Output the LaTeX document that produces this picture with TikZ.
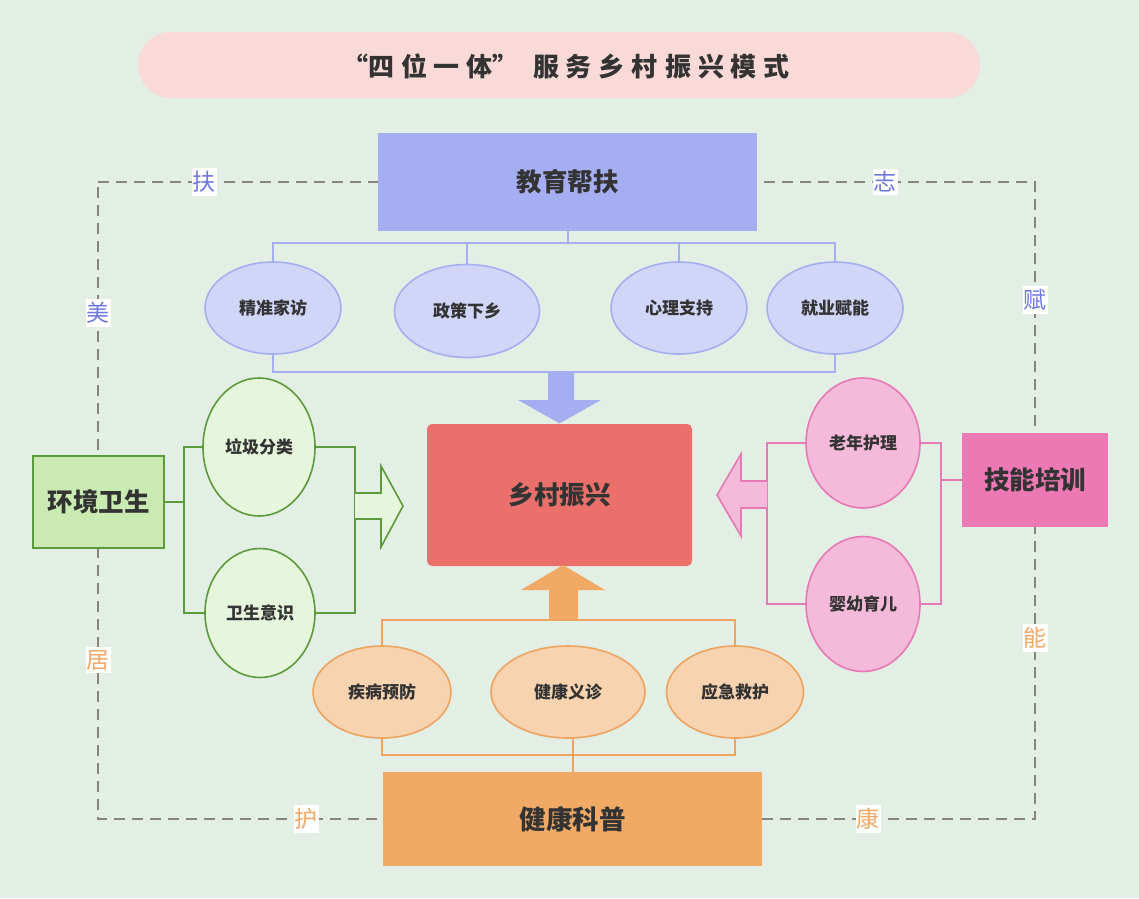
\documentclass[tikz,border=0pt]{standalone}
\usepackage{fontspec}
\setmainfont{Noto Sans CJK SC}
\usetikzlibrary{shapes.geometric}
\definecolor{bgc}{HTML}{E3EEE5}
\definecolor{titlef}{HTML}{F9DAD8}
\definecolor{txt}{HTML}{333333}
\definecolor{bluef}{HTML}{A6AEF2}
\definecolor{bluel}{HTML}{D1D5F8}
\definecolor{redf}{HTML}{EB706B}
\definecolor{greenb}{HTML}{C9EBB1}
\definecolor{greens}{HTML}{5C9A3C}
\definecolor{greenl}{HTML}{E6F6DD}
\definecolor{pinkb}{HTML}{EC78B4}
\definecolor{pinks}{HTML}{E57AB5}
\definecolor{pinkl}{HTML}{F5B9DA}
\definecolor{orangeb}{HTML}{F1AA65}
\definecolor{oranges}{HTML}{EEA45E}
\definecolor{orangel}{HTML}{F8D3B0}
\definecolor{frameg}{HTML}{8A847F}
\definecolor{labblue}{HTML}{6F78E0}
\definecolor{laborange}{HTML}{F0A868}
\newcommand\tsp{\hspace{7pt}}
\begin{document}
\begin{tikzpicture}[x=1pt,y=-1pt,
  mainbox/.style={rectangle, inner sep=0pt, text=txt, font=\fontsize{25.5}{30}\selectfont\bfseries, line width=1.2pt},
  oval/.style={ellipse, inner sep=0pt, text=txt, font=\fontsize{17}{20}\selectfont\bfseries, line width=1.6pt},
  conn/.style={line width=2pt},
  framelab/.style={fill=white, inner xsep=1pt, inner ysep=3pt, font=\fontsize{23}{26}\selectfont},
  frameline/.style={draw=frameg, line width=2.8pt, dash pattern=on 11pt off 7pt}
]
\fill[bgc] (0,0) rectangle (1139,898);
\useasboundingbox (0,0) rectangle (1139,898);

% title
\node[rectangle, rounded corners=33pt, fill=titlef, minimum width=842pt, minimum height=66pt, inner sep=0pt] (title) at (559,65) {};
\node[text=txt, inner sep=0pt, font=\fontsize{26}{30}\selectfont\bfseries] (titletext) at (566,66)
  {“四\tsp 位\tsp 一\tsp 体”\tsp\tsp 服\tsp 务\tsp 乡\tsp 村\tsp 振\tsp 兴\tsp 模\tsp 式};

% dashed frame
\coordinate (fa) at (98,182);
\coordinate (fb) at (1035,182);
\coordinate (fc) at (1035,819);
\coordinate (fd) at (98,819);
\draw[frameline] (fa) -- (fb) -- (fc) -- (fd) -- cycle;

% frame labels
\node[framelab, text=labblue] (l1) at (204,182) {扶};
\node[framelab, text=labblue] (l2) at (885,182) {志};
\node[framelab, text=labblue] (l3) at (98,313) {美};
\node[framelab, text=labblue] (l4) at (1035,300) {赋};
\node[framelab, text=laborange] (l5) at (98,660) {居};
\node[framelab, text=laborange] (l6) at (1035,638) {能};
\node[framelab, text=laborange] (l7) at (306,819) {护};
\node[framelab, text=laborange] (l8) at (868,819) {康};

% main boxes
\node[mainbox, fill=bluef, draw=bluef, minimum width=377pt, minimum height=96pt] (edu) at (567.5,182) {教育帮扶};
\node[mainbox, fill=redf, rounded corners=5pt, minimum width=265pt, minimum height=142pt] (core) at (559.5,495) {乡村振兴};
\node[mainbox, fill=greenb, draw=greens, minimum width=131pt, minimum height=92pt] (env) at (98.5,502) {环境卫生};
\node[mainbox, fill=pinkb, draw=pinkb, minimum width=144pt, minimum height=92pt] (skill) at (1035,480) {技能培训};
\node[mainbox, fill=orangeb, draw=orangeb, minimum width=377pt, minimum height=92pt, font=\fontsize{26.5}{30}\selectfont\bfseries] (health) at (572.5,819) {健康科普};

% blue ellipses
\node[oval, fill=bluel, draw=bluef, minimum width=136pt, minimum height=92pt] (b1) at (273,308) {精准家访};
\node[oval, fill=bluel, draw=bluef, minimum width=145pt, minimum height=93pt] (b2) at (467,311) {政策下乡};
\node[oval, fill=bluel, draw=bluef, minimum width=136pt, minimum height=92pt] (b3) at (679,308) {心理支持};
\node[oval, fill=bluel, draw=bluef, minimum width=136pt, minimum height=92pt] (b4) at (835,308) {就业赋能};

% green ellipses
\node[oval, fill=greenl, draw=greens, minimum width=112pt, minimum height=138pt] (g1) at (259,447) {垃圾分类};
\node[oval, fill=greenl, draw=greens, minimum width=110pt, minimum height=129pt] (g2) at (260,613) {卫生意识};

% pink ellipses
\node[oval, fill=pinkl, draw=pinks, minimum width=114pt, minimum height=130pt] (p1) at (863,443) {老年护理};
\node[oval, fill=pinkl, draw=pinks, minimum width=114pt, minimum height=135pt] (p2) at (863,604) {婴幼育儿};

% orange ellipses
\node[oval, fill=orangel, draw=oranges, minimum width=138pt, minimum height=92pt] (o1) at (382,692) {疾病预防};
\node[oval, fill=orangel, draw=oranges, minimum width=154pt, minimum height=92pt] (o2) at (568,692) {健康义诊};
\node[oval, fill=orangel, draw=oranges, minimum width=137pt, minimum height=92pt] (o3) at (735,692) {应急救护};

% blue connectors
\coordinate (bj) at (567.5,243);
\coordinate (bb) at (560,372);
\draw[conn, bluef] (edu.south) -- (bj);
\draw[conn, bluef] (b1.north) -- (b1.north |- bj) -- (b4.north |- bj) -- (b4.north);
\draw[conn, bluef] (b2.north) -- (b2.north |- bj);
\draw[conn, bluef] (b3.north) -- (b3.north |- bj);
\draw[conn, bluef] (b1.south) -- (b1.south |- bb) -- (b4.south |- bb) -- (b4.south);
\fill[bluef] (548,373) -- (574,373) -- (574,400) -- (601,400) -- (core.north) -- (518,400) -- (548,400) -- cycle;

% green connectors
\coordinate (gl) at (184,502);
\coordinate (gr) at (355,502);
\draw[conn, greens] (env.east) -- (gl);
\draw[conn, greens] (g1.west) -- (g1.west -| gl) -- (g2.west -| gl) -- (g2.west);
\draw[conn, greens] (g1.east) -- (g1.east -| gr) -- (g2.east -| gr) -- (g2.east);
\draw[greens, fill=greenl, line width=1.6pt, line join=miter] (355,493) -- (381,493) -- (381,466) -- (403,506) -- (381,547) -- (381,519) -- (355,519);

% pink connectors
\coordinate (pl) at (767,495);
\coordinate (pr) at (941,480);
\draw[conn, pinks] (skill.west) -- (pr);
\draw[conn, pinks] (p1.east) -- (p1.east -| pr) -- (p2.east -| pr) -- (p2.east);
\draw[conn, pinks] (p1.west) -- (p1.west -| pl) -- (p2.west -| pl) -- (p2.west);
\draw[pinks, fill=pinkl, line width=1.6pt, line join=miter] (767,481) -- (741,481) -- (741,454) -- (717,495) -- (741,536) -- (741,508) -- (767,508);

% orange connectors
\coordinate (ot) at (563,620);
\coordinate (ob) at (563,755);
\draw[conn, oranges] (o1.north) -- (o1.north |- ot) -- (o3.north |- ot) -- (o3.north);
\draw[conn, oranges] (o1.south) -- (o1.south |- ob) -- (o3.south |- ob) -- (o3.south);
\draw[conn, oranges] (o2.south -| health.north) -- (health.north);
\fill[orangeb] (549,620) -- (578,620) -- (578,590) -- (605,590) -- (563,565) -- (521,590) -- (549,590) -- cycle;
\end{tikzpicture}
\end{document}
